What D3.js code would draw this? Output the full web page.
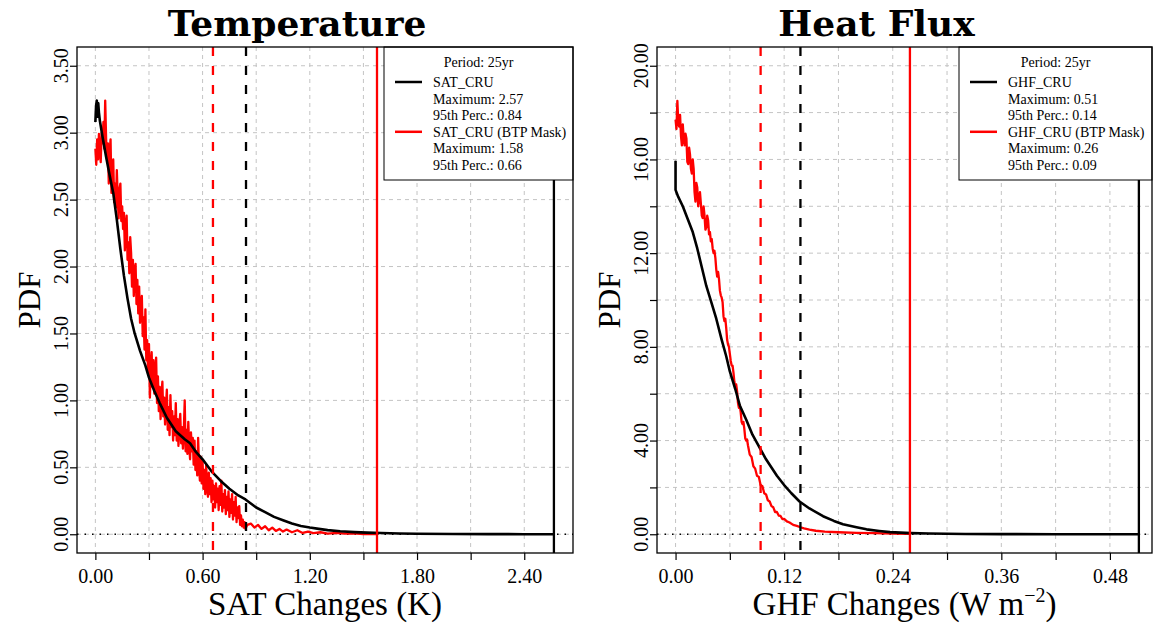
<!DOCTYPE html>
<html><head><meta charset="utf-8">
<script src="https://cdn.jsdelivr.net/npm/d3@7"></script>
<style>body{margin:0;background:#fff}</style>
</head><body><svg id="c" width="1155" height="628"></svg>
<script>
// ---------------- DATA ----------------
const satCru = [[0.000,3.08],[0.004,3.20],[0.008,3.24],[0.012,3.12],[0.016,3.22],[0.020,3.15],[0.025,3.09],[0.04,2.97],[0.06,2.82],[0.08,2.68],[0.10,2.55],[0.12,2.35],[0.14,2.13],[0.16,1.93],[0.18,1.76],[0.20,1.61],[0.22,1.50],[0.25,1.37],[0.28,1.26],[0.30,1.17],[0.33,1.07],[0.36,0.98],[0.40,0.87],[0.45,0.77],[0.50,0.71],[0.53,0.68],[0.56,0.62],[0.60,0.56],[0.65,0.47],[0.70,0.40],[0.75,0.34],[0.80,0.29],[0.84,0.26],[0.90,0.20],[0.95,0.165],[1.00,0.13],[1.05,0.105],[1.10,0.08],[1.15,0.062],[1.20,0.05],[1.25,0.04],[1.30,0.031],[1.37,0.022],[1.45,0.016],[1.52,0.012],[1.60,0.009],[1.70,0.006],[1.80,0.004],[2.0,0.002],[2.2,0.001],[2.4,0.0005],[2.566,0.0003]];
const satCruBtp = [[0.000,2.88],[0.005,2.76],[0.010,2.95],[0.015,2.80],[0.020,2.99],[0.025,2.86],[0.030,2.78],[0.035,3.00],[0.040,2.92],[0.045,3.08],[0.050,2.88],[0.055,3.24],[0.060,2.96],[0.065,2.80],[0.070,2.92],[0.075,2.62],[0.080,2.86],[0.085,2.95],[0.090,2.55],[0.095,2.72],[0.100,2.80],[0.105,2.48],[0.110,2.62],[0.115,2.44],[0.120,2.72],[0.125,2.52],[0.130,2.36],[0.135,2.58],[0.140,2.62],[0.145,2.34],[0.150,2.45],[0.155,2.28],[0.160,2.40],[0.165,2.12],[0.170,2.30],[0.175,2.38],[0.180,2.05],[0.185,2.18],[0.190,1.95],[0.195,2.22],[0.200,2.10],[0.205,1.85],[0.210,2.05],[0.215,1.78],[0.220,1.98],[0.225,2.02],[0.230,1.72],[0.235,1.90],[0.240,1.65],[0.245,1.85],[0.250,1.58],[0.255,1.72],[0.260,1.78],[0.265,1.48],[0.270,1.62],[0.275,1.38],[0.280,1.68],[0.285,1.30],[0.290,1.45],[0.295,1.20],[0.300,1.42],[0.305,1.02],[0.310,1.25],[0.315,1.36],[0.320,1.10],[0.325,1.30],[0.330,1.05],[0.335,1.22],[0.340,1.32],[0.345,0.98],[0.350,1.18],[0.355,0.92],[0.360,1.10],[0.365,0.86],[0.370,1.05],[0.375,1.14],[0.380,0.88],[0.385,1.02],[0.390,0.82],[0.395,0.96],[0.400,1.08],[0.405,0.78],[0.410,0.95],[0.415,0.74],[0.420,1.04],[0.425,0.80],[0.430,0.92],[0.435,0.70],[0.440,0.88],[0.445,0.74],[0.450,0.98],[0.455,0.70],[0.460,0.86],[0.465,0.66],[0.470,0.82],[0.475,0.90],[0.480,0.68],[0.485,0.80],[0.490,0.64],[0.495,0.78],[0.500,1.00],[0.505,0.62],[0.510,0.78],[0.515,0.60],[0.520,0.84],[0.525,0.66],[0.530,0.56],[0.535,0.76],[0.540,0.62],[0.545,0.72],[0.550,0.52],[0.555,0.70],[0.560,0.48],[0.565,0.62],[0.570,0.44],[0.575,0.72],[0.580,0.50],[0.585,0.40],[0.590,0.58],[0.595,0.38],[0.600,0.54],[0.605,0.34],[0.610,0.48],[0.615,0.30],[0.620,0.52],[0.625,0.36],[0.630,0.28],[0.635,0.46],[0.640,0.30],[0.645,0.42],[0.650,0.24],[0.655,0.40],[0.660,0.26],[0.665,0.36],[0.670,0.20],[0.675,0.38],[0.680,0.24],[0.685,0.34],[0.690,0.18],[0.695,0.36],[0.700,0.22],[0.705,0.40],[0.710,0.17],[0.715,0.30],[0.720,0.20],[0.725,0.33],[0.730,0.15],[0.735,0.28],[0.740,0.18],[0.745,0.32],[0.750,0.13],[0.755,0.26],[0.760,0.16],[0.765,0.30],[0.770,0.11],[0.775,0.24],[0.780,0.14],[0.785,0.28],[0.790,0.09],[0.795,0.20],[0.800,0.12],[0.805,0.21],[0.810,0.07],[0.815,0.14],[0.820,0.06],[0.825,0.11],[0.830,0.05],[0.835,0.09],[0.840,0.04],[0.850,0.07],[0.87,0.08],[0.89,0.05],[0.91,0.07],[0.93,0.04],[0.95,0.06],[0.97,0.03],[0.99,0.05],[1.01,0.025],[1.03,0.04],[1.05,0.02],[1.07,0.035],[1.10,0.015],[1.13,0.03],[1.16,0.01],[1.19,0.02],[1.22,0.008],[1.26,0.015],[1.30,0.005],[1.35,0.01],[1.40,0.004],[1.45,0.006],[1.50,0.002],[1.55,0.003],[1.576,0.001]];
const ghfCru = [[0,15.94],[0,14.7],[0.003,14.4],[0.008,14.0],[0.013,13.5],[0.019,12.9],[0.024,12.2],[0.029,11.4],[0.034,10.6],[0.040,9.85],[0.045,9.2],[0.051,8.3],[0.056,7.6],[0.060,6.95],[0.066,6.2],[0.071,5.5],[0.078,4.9],[0.085,4.25],[0.090,3.9],[0.095,3.55],[0.10,3.2],[0.106,2.85],[0.112,2.5],[0.12,2.1],[0.128,1.75],[0.137,1.4],[0.148,1.1],[0.163,0.77],[0.175,0.57],[0.185,0.43],[0.20,0.3],[0.211,0.21],[0.225,0.14],[0.237,0.09],[0.26,0.05],[0.28,0.03],[0.32,0.012],[0.36,0.006],[0.42,0.003],[0.48,0.001],[0.512,0.0005]];
const ghfCruBtp = [[0.000,17.7],[0.001,17.3],[0.002,18.5],[0.003,17.6],[0.004,17.4],[0.005,17.9],[0.006,17.0],[0.007,16.6],[0.008,17.5],[0.009,16.9],[0.010,16.6],[0.011,17.1],[0.012,16.9],[0.013,15.9],[0.014,15.8],[0.015,16.5],[0.016,16.2],[0.017,15.6],[0.018,15.4],[0.019,16.0],[0.020,15.6],[0.021,14.6],[0.022,14.2],[0.023,15.0],[0.024,14.8],[0.025,14.0],[0.026,14.3],[0.027,14.6],[0.028,14.1],[0.029,13.6],[0.030,13.5],[0.031,14.0],[0.032,13.6],[0.033,13.0],[0.034,13.1],[0.035,13.6],[0.036,13.4],[0.037,12.8],[0.038,12.9],[0.039,12.5],[0.040,12.6],[0.041,12.2],[0.042,12.0],[0.043,12.1],[0.044,11.8],[0.045,11.3],[0.046,11.0],[0.047,11.2],[0.048,10.9],[0.049,10.4],[0.050,10.2],[0.051,10.1],[0.052,9.9],[0.053,9.3],[0.054,9.1],[0.055,9.2],[0.056,8.8],[0.057,8.3],[0.058,8.1],[0.059,8.0],[0.060,7.7],[0.061,7.4],[0.062,7.2],[0.063,7.2],[0.064,6.9],[0.065,6.5],[0.066,6.3],[0.067,6.4],[0.068,6.1],[0.069,5.6],[0.070,5.4],[0.071,5.5],[0.072,5.2],[0.073,4.8],[0.074,4.7],[0.075,4.8],[0.076,4.5],[0.077,4.1],[0.078,4.0],[0.079,4.05],[0.080,3.8],[0.082,3.4],[0.084,3.3],[0.086,2.9],[0.088,2.8],[0.090,2.5],[0.092,2.45],[0.094,2.1],[0.096,2.05],[0.098,1.75],[0.100,1.7],[0.102,1.45],[0.104,1.4],[0.106,1.2],[0.108,1.15],[0.110,0.95],[0.112,0.95],[0.114,0.8],[0.116,0.78],[0.118,0.65],[0.120,0.66],[0.123,0.55],[0.126,0.5],[0.130,0.4],[0.134,0.36],[0.138,0.3],[0.142,0.25],[0.148,0.2],[0.155,0.15],[0.165,0.11],[0.18,0.085],[0.20,0.06],[0.22,0.05],[0.24,0.03],[0.259,0.02]];

const satMax = [2.566, 1.576];   // [CRU, BTP mask]
const satP95 = [0.843, 0.658];
const ghfMax = [0.512, 0.259];
const ghfP95 = [0.138, 0.094];

const satXTicks = [0,0.3,0.6,0.9,1.2,1.5,1.8,2.1,2.4];
const satXLabels = ["0.00","","0.60","","1.20","","1.80","","2.40"];
const satYTicks = [0,0.5,1,1.5,2,2.5,3,3.5];
const satYLabels = ["0.00","0.50","1.00","1.50","2.00","2.50","3.00","3.50"];
const ghfXTicks = [0,0.06,0.12,0.18,0.24,0.30,0.36,0.42,0.48];
const ghfXLabels = ["0.00","","0.12","","0.24","","0.36","","0.48"];
const ghfYTicks = [0,2,4,6,8,10,12,14,16,18,20];
const ghfYLabels = ["0.00","","4.00","","8.00","","12.00","","16.00","","20.00"];

const titles = ["Temperature","Heat Flux"];
const seriesNames = [["SAT_CRU","SAT_CRU (BTP Mask)"],["GHF_CRU","GHF_CRU (BTP Mask)"]];
const periodLabel = "Period: 25yr";

// ---------------- DRAW ----------------
const svg = d3.select('#c');
svg.append('rect').attr('width',1155).attr('height',628).attr('fill','#fff');
const SERIF = "'Liberation Serif','Times New Roman',serif";

function panel(p){
  const g = svg.append('g');
  const x = d3.scaleLinear().domain(p.xDom).range([p.l,p.r]);
  const y = d3.scaleLinear().domain(p.yDom).range([p.b,p.t]);
  // grid
  g.selectAll(null).data(p.xTicks).join('line')
    .attr('x1',d=>x(d)).attr('x2',d=>x(d)).attr('y1',p.t).attr('y2',p.b)
    .attr('stroke','#c4c4c4').attr('stroke-width',1).attr('stroke-dasharray','4,4');
  g.selectAll(null).data(p.yTicks).join('line')
    .attr('y1',d=>y(d)).attr('y2',d=>y(d)).attr('x1',p.l).attr('x2',p.r)
    .attr('stroke','#c4c4c4').attr('stroke-width',1).attr('stroke-dasharray','4,4');
  // zero line
  g.append('line').attr('x1',p.l).attr('x2',p.r).attr('y1',y(0)).attr('y2',y(0))
    .attr('stroke','#000').attr('stroke-width',1.5).attr('stroke-dasharray','1.5,6');
  const line = d3.line().x(d=>x(d[0])).y(d=>y(d[1]));
  g.append('path').datum(p.red).attr('d',line).attr('fill','none')
    .attr('stroke','#ff0000').attr('stroke-width',2.3).attr('stroke-linejoin','round');
  g.append('path').datum(p.black).attr('d',line).attr('fill','none')
    .attr('stroke','#000').attr('stroke-width',2.6).attr('stroke-linejoin','round');
  // vertical lines
  const vl = [[p.p95[0],'#000',true],[p.p95[1],'#ff0000',true],[p.max[0],'#000',false],[p.max[1],'#ff0000',false]];
  g.selectAll(null).data(vl).join('line')
    .attr('x1',d=>x(d[0])).attr('x2',d=>x(d[0])).attr('y1',p.t).attr('y2',p.b)
    .attr('stroke',d=>d[1]).attr('stroke-width',2.3)
    .attr('stroke-dasharray',d=>d[2]?'9,10':null);
  // legend
  const lg = g.append('g');
  const lx = p.r - p.legW, ly = p.t;
  lg.append('rect').attr('x',lx).attr('y',ly).attr('width',p.legW).attr('height',133)
    .attr('fill','#fff').attr('stroke','#000').attr('stroke-width',1);
  lg.append('text').attr('x',lx + p.legW/2).attr('y',ly+20).attr('text-anchor','middle')
    .style('font-family',SERIF).style('font-size','14px').text(periodLabel);
  const rows = [
    [p.names[0],'#000'],['Maximum: '+p.max[0].toFixed(2),null],['95th Perc.: '+p.p95[0].toFixed(2),null],
    [p.names[1],'#ff0000'],['Maximum: '+p.max[1].toFixed(2),null],['95th Perc.: '+p.p95[1].toFixed(2),null]
  ];
  rows.forEach((r,i)=>{
    const cy = ly + 35 + i*16.6;
    if(r[1]) lg.append('line').attr('x1',lx+11).attr('x2',lx+38).attr('y1',cy).attr('y2',cy)
      .attr('stroke',r[1]).attr('stroke-width',2.5);
    lg.append('text').attr('x',lx+49).attr('y',cy+5)
      .style('font-family',SERIF).style('font-size','14px').text(r[0]);
  });
  // box
  g.append('rect').attr('x',p.l).attr('y',p.t).attr('width',p.r-p.l).attr('height',p.b-p.t)
    .attr('fill','none').attr('stroke','#000').attr('stroke-width',1.3);
  // x axis
  const xa = g.append('g').attr('transform',`translate(0,${p.b})`)
    .call(d3.axisBottom(x).tickValues(p.xTicks).tickFormat((d,i)=>p.xLabels[i]).tickSize(7).tickSizeOuter(0).tickPadding(9));
  xa.select('.domain').remove();
  xa.selectAll('line').attr('stroke','#000').attr('stroke-width',1.2);
  xa.selectAll('text').style('font-family',SERIF).style('font-size','20px').attr('fill','#000');
  // y axis
  const ya = g.append('g').attr('transform',`translate(${p.l},0)`)
    .call(d3.axisLeft(y).tickValues(p.yTicks).tickFormat('').tickSize(7).tickSizeOuter(0));
  ya.select('.domain').remove();
  ya.selectAll('line').attr('stroke','#000').attr('stroke-width',1.2);
  g.selectAll(null).data(p.yTicks).join('text')
    .attr('transform',d=>`translate(${p.l-9},${y(d)}) rotate(-90)`)
    .attr('text-anchor','middle')
    .style('font-family',SERIF).style('font-size','20px')
    .text((d,i)=>p.yLabels[i]);
  // titles
  const cx = (p.l+p.r)/2;
  g.append('text').attr('x',cx-28).attr('y',36).attr('text-anchor','middle')
    .style('font-family',"'DejaVu Serif',serif").style('font-weight','bold').style('font-size','36px')
    .text(p.title);
  const xl = g.append('text').attr('x',cx).attr('y',615).attr('text-anchor','middle')
    .style('font-family',SERIF).style('font-size','33px');
  p.xTitle(xl);
  g.append('text').attr('transform',`translate(${p.l-37},${(p.t+p.b)/2}) rotate(-90)`)
    .attr('text-anchor','middle')
    .style('font-family',SERIF).style('font-size','31px').text('PDF');
}

panel({l:77,r:573,t:47,b:553,xDom:[-0.1028,2.6728],yDom:[-0.14,3.64],
  xTicks:satXTicks,xLabels:satXLabels,yTicks:satYTicks,yLabels:satYLabels,
  black:satCru,red:satCruBtp,max:satMax,p95:satP95,names:seriesNames[0],legW:189,
  title:titles[0], xTitle:t=>t.text('SAT Changes (K)')});
panel({l:657,r:1152,t:47,b:553,xDom:[-0.0205,0.5265],yDom:[-0.8,20.8],
  xTicks:ghfXTicks,xLabels:ghfXLabels,yTicks:ghfYTicks,yLabels:ghfYLabels,
  black:ghfCru,red:ghfCruBtp,max:ghfMax,p95:ghfP95,names:seriesNames[1],legW:193,
  title:titles[1], xTitle:t=>{t.append('tspan').text('GHF Changes (W m');
    t.append('tspan').attr('dy',-13).style('font-size','20px').text('−2');
    t.append('tspan').attr('dy',13).text(')');}});
</script></body></html>
